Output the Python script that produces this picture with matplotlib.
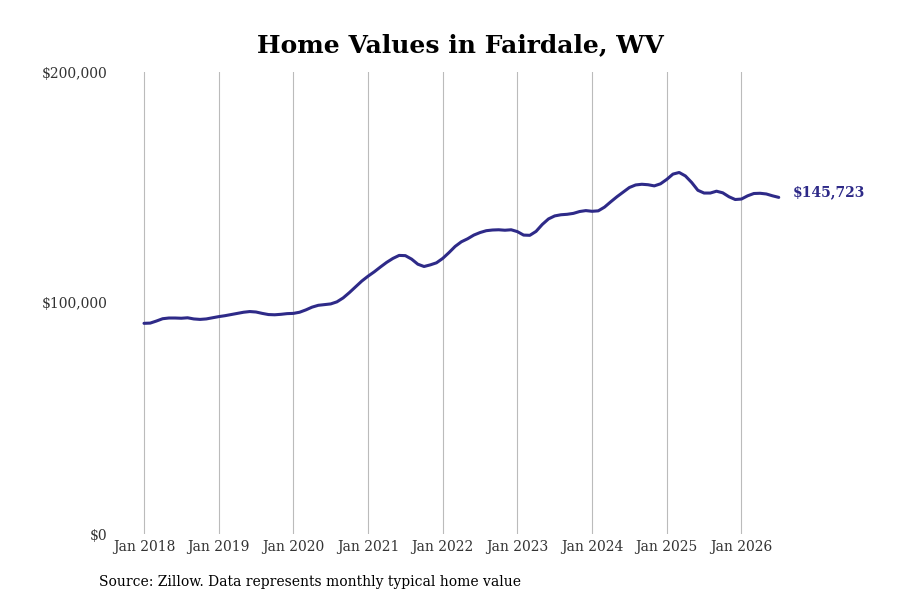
import matplotlib.pyplot as plt
import numpy as np

# monthly typical home value, Jan 2018 .. Jul 2026
values = [
    91.2, 91.3, 92.2, 93.2, 93.5, 93.5, 93.4, 93.6, 93.1, 92.9, 93.1, 93.6,
    94.1, 94.5, 95.0, 95.5, 96.0, 96.3, 96.1, 95.5, 95.0, 94.9, 95.1, 95.4,
    95.5, 96.0, 97.0, 98.2, 99.0, 99.3, 99.6, 100.5, 102.2, 104.5, 107.0, 109.5,
    111.6, 113.5, 115.6, 117.6, 119.3, 120.6, 120.5, 119.0, 116.8, 115.8, 116.5, 117.4,
    119.3, 121.8, 124.5, 126.5, 127.8, 129.4, 130.5, 131.3, 131.6, 131.7, 131.5, 131.7,
    130.9, 129.4, 129.3, 131.0, 134.0, 136.4, 137.7, 138.2, 138.4, 138.8, 139.6, 140.0,
    139.7, 139.9, 141.5, 143.8, 146.0, 148.0, 150.0, 151.1, 151.4, 151.2, 150.7, 151.6,
    153.5, 155.8, 156.5, 155.0, 152.2, 148.8, 147.6, 147.6, 148.4, 147.7, 146.0, 144.8,
    145.0, 146.4, 147.4, 147.5, 147.2, 146.4, 145.723,
]
values = np.array(values) * 1000
months = np.arange(len(values))

tick_labels = ['Jan 2018', 'Jan 2019', 'Jan 2020', 'Jan 2021', 'Jan 2022',
               'Jan 2023', 'Jan 2024', 'Jan 2025', 'Jan 2026']
tick_pos = np.arange(len(tick_labels)) * 12
y_ticks = [0, 100000, 200000]
y_labels = ['$0', '$100,000', '$200,000']
last_label = '$145,723'

line_color = '#2e2a88'

plt.rcParams['font.family'] = 'DejaVu Serif'

fig = plt.figure(figsize=(9, 6), dpi=100)
ax = fig.add_axes([0.13, 0.11, 0.83, 0.77])

ax.plot(months, values, color=line_color, linewidth=2.2, solid_capstyle='round')

ax.set_xlim(-4.34, 115.7)
ax.set_ylim(0, 200000)
ax.set_xticks(tick_pos)
ax.set_xticklabels(tick_labels, fontsize=10, color='#333333')
ax.set_yticks(y_ticks)
ax.set_yticklabels(y_labels, fontsize=10, color='#333333')
ax.tick_params(axis='both', length=0)
ax.tick_params(axis='x', pad=4)
ax.tick_params(axis='y', pad=7)
ax.grid(axis='x', color='#bbbbbb', linewidth=0.8)
for s in ax.spines.values():
    s.set_visible(False)

ax.annotate(last_label, xy=(months[-1], values[-1]), xytext=(10, 4),
            textcoords='offset points', fontsize=10, fontweight='bold',
            color=line_color, va='center', ha='left', annotation_clip=False)

fig.text(0.512, 0.925, 'Home Values in Fairdale, WV', ha='center', va='center',
         fontsize=18, fontweight='bold', color='black')
fig.text(0.11, 0.03, 'Source: Zillow. Data represents monthly typical home value',
         ha='left', va='center', fontsize=10, color='black')

fig.savefig('out.png', dpi=100)
